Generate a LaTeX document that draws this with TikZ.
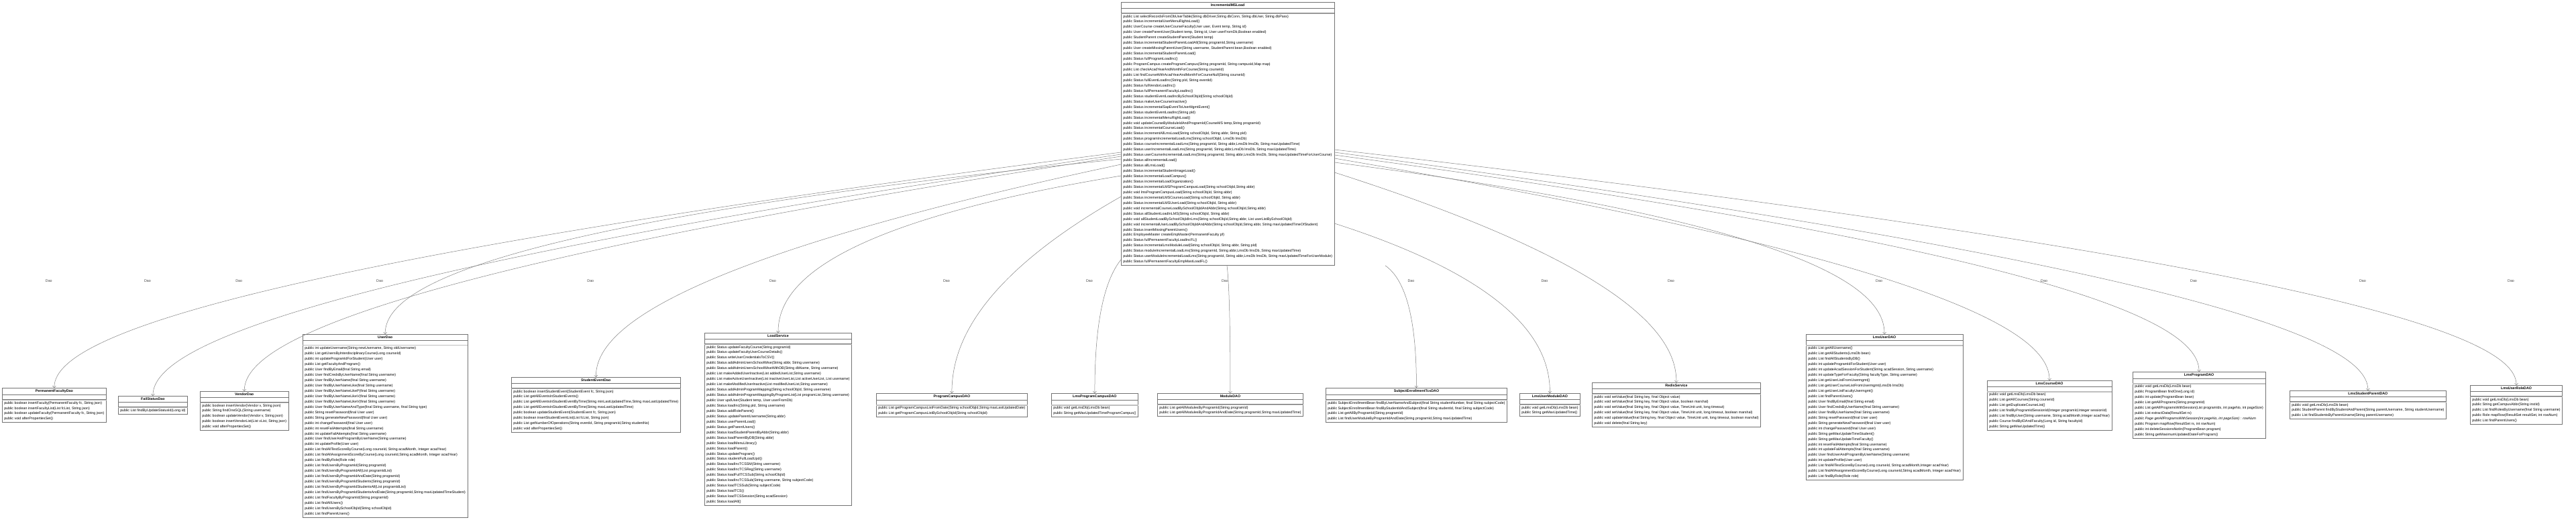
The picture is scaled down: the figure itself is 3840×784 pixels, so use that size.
\documentclass[tikz,border=0pt]{standalone}
\usepackage{fontspec}
\setmainfont{Liberation Sans}
\usetikzlibrary{arrows.meta,shapes.multipart,calc}

\tikzset{
  cls/.style={draw=black!55, line width=0.6pt, fill=white, anchor=north west,
              rectangle split, rectangle split parts=3,
              rectangle split part align={center,left,left},
              align=left, inner xsep=3pt, inner ysep=2.4pt,
              font=\fontsize{5.3}{7.95}\selectfont},
  sep2/.style={draw=black!25, line width=1.1pt},
  dep/.style={draw=black!50, line width=0.5pt, -{Straight Barb[length=2.5pt,width=5pt]}},
  lbl/.style={font=\fontsize{5.3}{6}\selectfont, text=black!75}
}
\newcommand{\emptypart}{\rule{0pt}{1.5pt}}

\begin{document}
\begin{tikzpicture}[x=1pt,y=-1pt]
\useasboundingbox (0,0) rectangle (3840,784);

% central class
\node[cls] (svc) at (1671,3) {\textbf{IncrementalMSLoad}
  \nodepart{second}\emptypart
  \nodepart{third}
  public List selectRecordsFromDbUserTable(String dbDriver,String dbConn, String dbUser, String dbPass)\\
  public Status incrementalUserMenuRightsLoad()\\
  public UserCourse createUserCourseFaculty(User user, Event temp, String id)\\
  public User createParentUser(Student temp, String id, User userFromDb,Boolean enabled)\\
  public StudentParent createStudentParent(Student temp)\\
  public Status incrementalStudentParentLoadAll(String programId,String username)\\
  public User createMissingParentUser(String username, StudentParent bean,Boolean enabled)\\
  public Status incrementalStudentParentLoad()\\
  public Status fullProgramLoadInc()\\
  public ProgramCampus createProgramCampus(String programId, String campusId,Map map)\\
  public List checkAcadYearAndMonthForCourse(String courseId)\\
  public List findCourseWithAcadYearAndMonthForCourseNull(String courseId)\\
  public Status fullEventLoadInc(String pId, String eventId)\\
  public Status fullVendorLoadInc()\\
  public Status fullPermanentFacultyLoadInc()\\
  public Status studentEventLoadIncBySchoolObjId(String schoolObjId)\\
  public Status makeUserCourseInactive()\\
  public Status incrementalSapEventToUserMgmtEvent()\\
  public Status studentEventLoadInc(String pId)\\
  public Status incrementalMenuRightLoad()\\
  public void updateCourseByModuleIdAndProgramId(CourseMS temp,String programId)\\
  public Status incrementalCourseLoad()\\
  public Status incrementAllLmsLoad(String schoolObjId, String abbr, String pId)\\
  public Status programIncrementalLoadLms(String schoolObjId, LmsDb lmsDb)\\
  public Status courseIncrementalLoadLms(String programId, String abbr,LmsDb lmsDb, String maxUpdatedTime)\\
  public Status userIncrementalLoadLms(String programId, String abbr,LmsDb lmsDb, String maxUpdatedTime)\\
  public Status userCourseIncrementalLoadLms(String programId, String abbr,LmsDb lmsDb, String maxUpdatedTimeForUserCourse)\\
  public Status allIncrementalLoad()\\
  public Status allLmsLoad()\\
  public Status incrementalStudentImageLoad()\\
  public Status incrementalLoadCampus()\\
  public Status incrementalLoadOrganization()\\
  public Status incrementalLMSProgramCampusLoad(String schoolObjId,String abbr)\\
  public void lmsProgramCampusLoad(String schoolObjId, String abbr)\\
  public Status incrementalLMSCourseLoad(String schoolObjId, String abbr)\\
  public Status incrementalLMSUserLoad(String schoolObjId, String abbr)\\
  public void incrementalCourseLoadBySchoolObjIdAndAbbr(String schoolObjId,String abbr)\\
  public Status allStudentLoadInLMS(String schoolObjId, String abbr)\\
  public void allStudentLoadBySchoolObjIdInLms(String schoolObjId,String abbr, List userListBySchoolObjId)\\
  public void incrementalUserLoadBySchoolObjIdAndAbbr(String schoolObjId,String abbr, String maxUpdatedTimeOfStudent)\\
  public Status insertMissingParentUsers()\\
  public EmployeeMaster createEmpMaster(PermanentFaculty pf)\\
  public Status fullPermanentFacultyLoadIncFL()\\
  public Status incrementalLmsModuleLoad(String schoolObjId, String abbr, String pId)\\
  public Status moduleIncrementalLoadLms(String programId, String abbr,LmsDb lmsDb, String maxUpdatedTime)\\
  public Status userModuleIncrementalLoadLms(String programId, String abbr,LmsDb lmsDb, String maxUpdatedTimeForUserModule)\\
  public Status fullPermanentFacultyEmpMastLoadFL()};

% dao classes
\node[cls] (pfd) at (3,578) {\textbf{PermanentFacultyDao}
  \nodepart{second}\emptypart
  \nodepart{third}
  public boolean insertFaculty(PermanentFaculty fc, String json)\\
  public boolean insertFacultyList(List fcList, String json)\\
  public boolean updateFaculty(PermanentFaculty fc, String json)\\
  public void afterPropertiesSet()};
\node[cls] (fsd) at (176,590) {\textbf{FailStatusDao}
  \nodepart{second}\emptypart
  \nodepart{third}
  public List findByUpdateStatusId(Long id)};
\node[cls] (vd) at (298,583) {\textbf{VendorDao}
  \nodepart{second}\emptypart
  \nodepart{third}
  public boolean insertVendor(Vendor v, String json)\\
  public String findOneSQL(String username)\\
  public boolean updateVendor(Vendor v, String json)\\
  public boolean insertVendorList(List vList, String json)\\
  public void afterPropertiesSet()};
\node[cls] (ud) at (451,498) {\textbf{UserDao}
  \nodepart{second}\emptypart
  \nodepart{third}
  public int updateUsername(String newUsername, String oldUsername)\\
  public List getUsersByInterdisciplinaryCourse(Long courseId)\\
  public int updateProgramIdForStudent(User user)\\
  public List getFacultyAndProgram()\\
  public User findByEmail(final String email)\\
  public User findCredsByUserName(final String username)\\
  public User findByUserName(final String username)\\
  public User findByUserNameLike(final String username)\\
  public User findByUserNameLikeP(final String username)\\
  public User findByUserNameLikeV(final String username)\\
  public User findByUserNameLikeV(final String username)\\
  public User findByUserNameAndType(final String username, final String type)\\
  public String resetPassword(final User user)\\
  public String generateNewPassword(final User user)\\
  public int changePassword(final User user)\\
  public int resetFailAttempts(final String username)\\
  public int updateFailAttempts(final String username)\\
  public User findUserAndProgramByUserName(String username)\\
  public int updateProfile(User user)\\
  public List findAllTestScoreByCourse(Long courseId, String acadMonth, Integer acadYear)\\
  public List findAllAssignmentScoreByCourse(Long courseId,String acadMonth, Integer acadYear)\\
  public List findByRole(Role role)\\
  public List findUsersByProgramId(String programId)\\
  public List findUsersByProgramIdAll(List programIdList)\\
  public List findUsersByProgramIdAndDate(String programId)\\
  public List findUsersByProgramIdStudents(String programId)\\
  public List findUsersByProgramIdStudentsAll(List programIdList)\\
  public List findUsersByProgramIdStudentsAndDate(String programId,String maxUpdatedTimeStudent)\\
  public List findFacultyByProgramId(String programId)\\
  public List findAllUsers()\\
  public List findUsersBySchoolObjId(String schoolObjId)\\
  public List findParentUsers()};
\node[cls] (sed) at (762,562) {\textbf{StudentEventDao}
  \nodepart{second}\emptypart
  \nodepart{third}
  public boolean insertStudentEvent(StudentEvent fc, String json)\\
  public List getAllEventsInStudentEvents()\\
  public List getAllEventsInStudentEventByTime(String minLastUpdatedTime,String maxLastUpdatedTime)\\
  public List getAllEventsInStudentEventByTime(String maxLastUpdatedTime)\\
  public boolean updateStudentEvent(StudentEvent fc, String json)\\
  public boolean insertStudentEventList(List fcList, String json)\\
  public List getNumberOfOperations(String eventId, String programId,String studentNo)\\
  public void afterPropertiesSet()};
\node[cls] (ls) at (1050,496) {\textbf{LoadService}
  \nodepart{second}\emptypart
  \nodepart{third}
  public Status updateFacultyCourse(String programId)\\
  public Status updateFacultyUserCourseDetails()\\
  public Status writeUserCredentialsToCSV()\\
  public Status addAdminUsersSchoolWise(String abbr, String username)\\
  public Status addAdminUsersSchoolWiseWithDB(String dbName, String username)\\
  public List makeAddedUserInactive(List addedUserList,String username)\\
  public List makeActiveUserInactive(List inactiveUserList,List activeUserList, List username)\\
  public List makeModifiedUserInactive(List modifiedUserList,String username)\\
  public Status addAdminProgramMapping(String schoolObjId, String username)\\
  public Status addAdminProgramMappingByProgramList(List programList,String username)\\
  public User updUser(Student temp, User userFromDb)\\
  public Status loadInc(String pId, String username)\\
  public Status addRoleParent()\\
  public Status updateParentUsername(String abbr)\\
  public Status userParentLoad()\\
  public Status getParentUsers()\\
  public Status loadStudentParentByAbbr(String abbr)\\
  public Status loadParentByDB(String abbr)\\
  public Status loadMenuLibrary()\\
  public Status loadParent()\\
  public Status updateProgram()\\
  public Status studentFullLoadUpd()\\
  public Status loadIncTCSSM(String username)\\
  public Status loadIncTCSReg(String username)\\
  public Status loadFullTCSSub(String schoolObjId)\\
  public Status loadIncTCSSub(String username, String subjectCode)\\
  public Status loadTCSSub(String subjectCode)\\
  public Status loadTCS()\\
  public Status loadTCSSession(String acadSession)\\
  public Status loadAll()};
\node[cls] (pcd) at (1306,586) {\textbf{ProgramCampusDAO}
  \nodepart{second}\emptypart
  \nodepart{third}
  public List getProgramCampusListFromDate(String schoolObjId,String maxLastUpdatedDate)\\
  public List getProgramCampusListBySchoolObjId(String schoolObjId)};
\node[cls] (lpcd) at (1567,586) {\textbf{LmsProgramCampusDAO}
  \nodepart{second}\emptypart
  \nodepart{third}
  public void getLmsDb(LmsDb bean)\\
  public String getMaxUpdatedTimeProgramCampus()};
\node[cls] (md) at (1725,586) {\textbf{ModuleDAO}
  \nodepart{second}\emptypart
  \nodepart{third}
  public List getAllModulesByProgramId(String programId)\\
  public List getAllModulesByProgramIdAndDate(String programId,String maxUpdatedTime)};
\node[cls] (setd) at (1976,578) {\textbf{SubjectEnrollmentTcsDAO}
  \nodepart{second}\emptypart
  \nodepart{third}
  public SubjectEnrollmentBean findByUserNameAndSubject(final String studentNumber, final String subjectCode)\\
  public SubjectEnrollmentBean findByStudentIdAndSubject(final String studentId, final String subjectCode)\\
  public List getAllByProgramId(String programId)\\
  public List findUserModuleByProgramIdAndDate(String programId,String maxUpdatedTime)};
\node[cls] (lumd) at (2265,586) {\textbf{LmsUserModuleDAO}
  \nodepart{second}\emptypart
  \nodepart{third}
  public void getLmsDb(LmsDb bean)\\
  public String getMaxUpdatedTime()};
\node[cls] (rs) at (2373,570) {\textbf{RedisService}
  \nodepart{second}\emptypart
  \nodepart{third}
  public void setValue(final String key, final Object value)\\
  public void setValue(final String key, final Object value, boolean marshal)\\
  public void setValue(final String key, final Object value, TimeUnit unit, long timeout)\\
  public void setValue(final String key, final Object value, TimeUnit unit, long timeout, boolean marshal)\\
  public void updateValue(final String key, final Object value, TimeUnit unit, long timeout, boolean marshal)\\
  public void delete(final String key)};
\node[cls] (lud) at (2692,498) {\textbf{LmsUserDAO}
  \nodepart{second}\emptypart
  \nodepart{third}
  public List getAllUsername()\\
  public List getAllStudents(LmsDb bean)\\
  public List findAllStudentsByDB()\\
  public int updateProgramIdForStudent(User user)\\
  public int updateAcadSessionForStudent(String acadSession, String username)\\
  public int updateTypeForFaculty(String facultyType, String username)\\
  public List getUserListFromUsermgmt()\\
  public List getUserCourseListFromUsermgmt(LmsDb lmsDb)\\
  public List getUserListFacultyUsermgmt()\\
  public List findParentUsers()\\
  public User findByEmail(final String email)\\
  public User findCredsByUserName(final String username)\\
  public User findByUserName(final String username)\\
  public String resetPassword(final User user)\\
  public String generateNewPassword(final User user)\\
  public int changePassword(final User user)\\
  public String getMaxUpdateTimeStudent()\\
  public String getMaxUpdateTimeFaculty()\\
  public int resetFailAttempts(final String username)\\
  public int updateFailAttempts(final String username)\\
  public User findUserAndProgramByUserName(String username)\\
  public int updateProfile(User user)\\
  public List findAllTestScoreByCourse(Long courseId, String acadMonth,Integer acadYear)\\
  public List findAllAssignmentScoreByCourse(Long courseId,String acadMonth, Integer acadYear)\\
  public List findByRole(Role role)};
\node[cls] (lcd) at (2962,567) {\textbf{LmsCourseDAO}
  \nodepart{second}\emptypart
  \nodepart{third}
  public void getLmsDb(LmsDb bean)\\
  public List getAllCourses(String courseId)\\
  public List getDuplicateCourseList()\\
  public List findByProgramIdSessionId(Integer programId,Integer sessionId)\\
  public List findByUser(String username, String acadMonth,Integer acadYear)\\
  public Course findByIDAndFaculty(Long id, String facultyId)\\
  public String getMaxUpdatedTime()};
\node[cls] (lpd) at (3179,554) {\textbf{LmsProgramDAO}
  \nodepart{second}\emptypart
  \nodepart{third}
  public void getLmsDb(LmsDb bean)\\
  public ProgramBean findOne(Long id)\\
  public int update(ProgramBean bean)\\
  public List getAllPrograms(String programId)\\
  public List getAllProgramsWithSession(List programIds, int pageNo, int pageSize)\\
  public List extractData(ResultSet rs)\\
  \textit{public Page getAllProgramsWithSession(int pageNo, int pageSize) : rowNum}\\
  public Program mapRow(ResultSet rs, int rowNum)\\
  public int deleteSessionsNotIn(ProgramBean program)\\
  public String getMaximumUpdatedDateForProgram()};
\node[cls] (lspd) at (3413,582) {\textbf{LmsStudentParentDAO}
  \nodepart{second}\emptypart
  \nodepart{third}
  public void getLmsDb(LmsDb bean)\\
  public StudentParent findByStudentAndParent(String parentUsername, String studentUsername)\\
  public List findStudentsByParentUname(String parentUsername)};
\node[cls] (lurd) at (3682,574) {\textbf{LmsUserRoleDAO}
  \nodepart{second}\emptypart
  \nodepart{third}
  public void getLmsDb(LmsDb bean)\\
  public String getCampusAbbr(String instId)\\
  public List findRolesByUsername(final String username)\\
  public Role mapRow(ResultSet resultSet, int rowNum)\\
  public List findParentUsers()};

% grey rule under the empty attribute part
\foreach \n in {svc,pfd,fsd,vd,ud,sed,ls,pcd,lpcd,md,setd,lumd,rs,lud,lcd,lpd,lspd,lurd}
  \draw[sep2] ([yshift=-0.6pt]\n.two split west) -- ([yshift=-0.6pt]\n.two split east);

% dependencies: target / side of svc / offset
\foreach \t/\a/\dx/\dy in {pfd/north west/0/224, fsd/north west/0/227, vd/north west/0/230,
    ud/north west/0/234, sed/north west/0/242, ls/north west/0/259, pcd/north west/0/290,
    lpcd/north west/0/384, md/south west/158/0, setd/south west/394/0,
    lumd/north east/0/330, rs/north east/0/254, lud/north east/0/239, lcd/north east/0/233,
    lpd/north east/0/228, lspd/north east/0/224, lurd/north east/0/220}{
  \coordinate (s-\t) at ($(svc.\a)+(\dx,\dy)$);
  \coordinate (q-\t) at ($(\t.north)+(0,-150)$);
  \draw[dep] (s-\t) .. controls ($(s-\t)!0.9!(q-\t)$) and ($(\t.north)+(0,-60)$) .. (\t.north);
  \node[lbl] (lab-\t) at ($(\t.north |- 0,419)+(-8,0)$) {Dao};
}
\end{tikzpicture}
\end{document}
